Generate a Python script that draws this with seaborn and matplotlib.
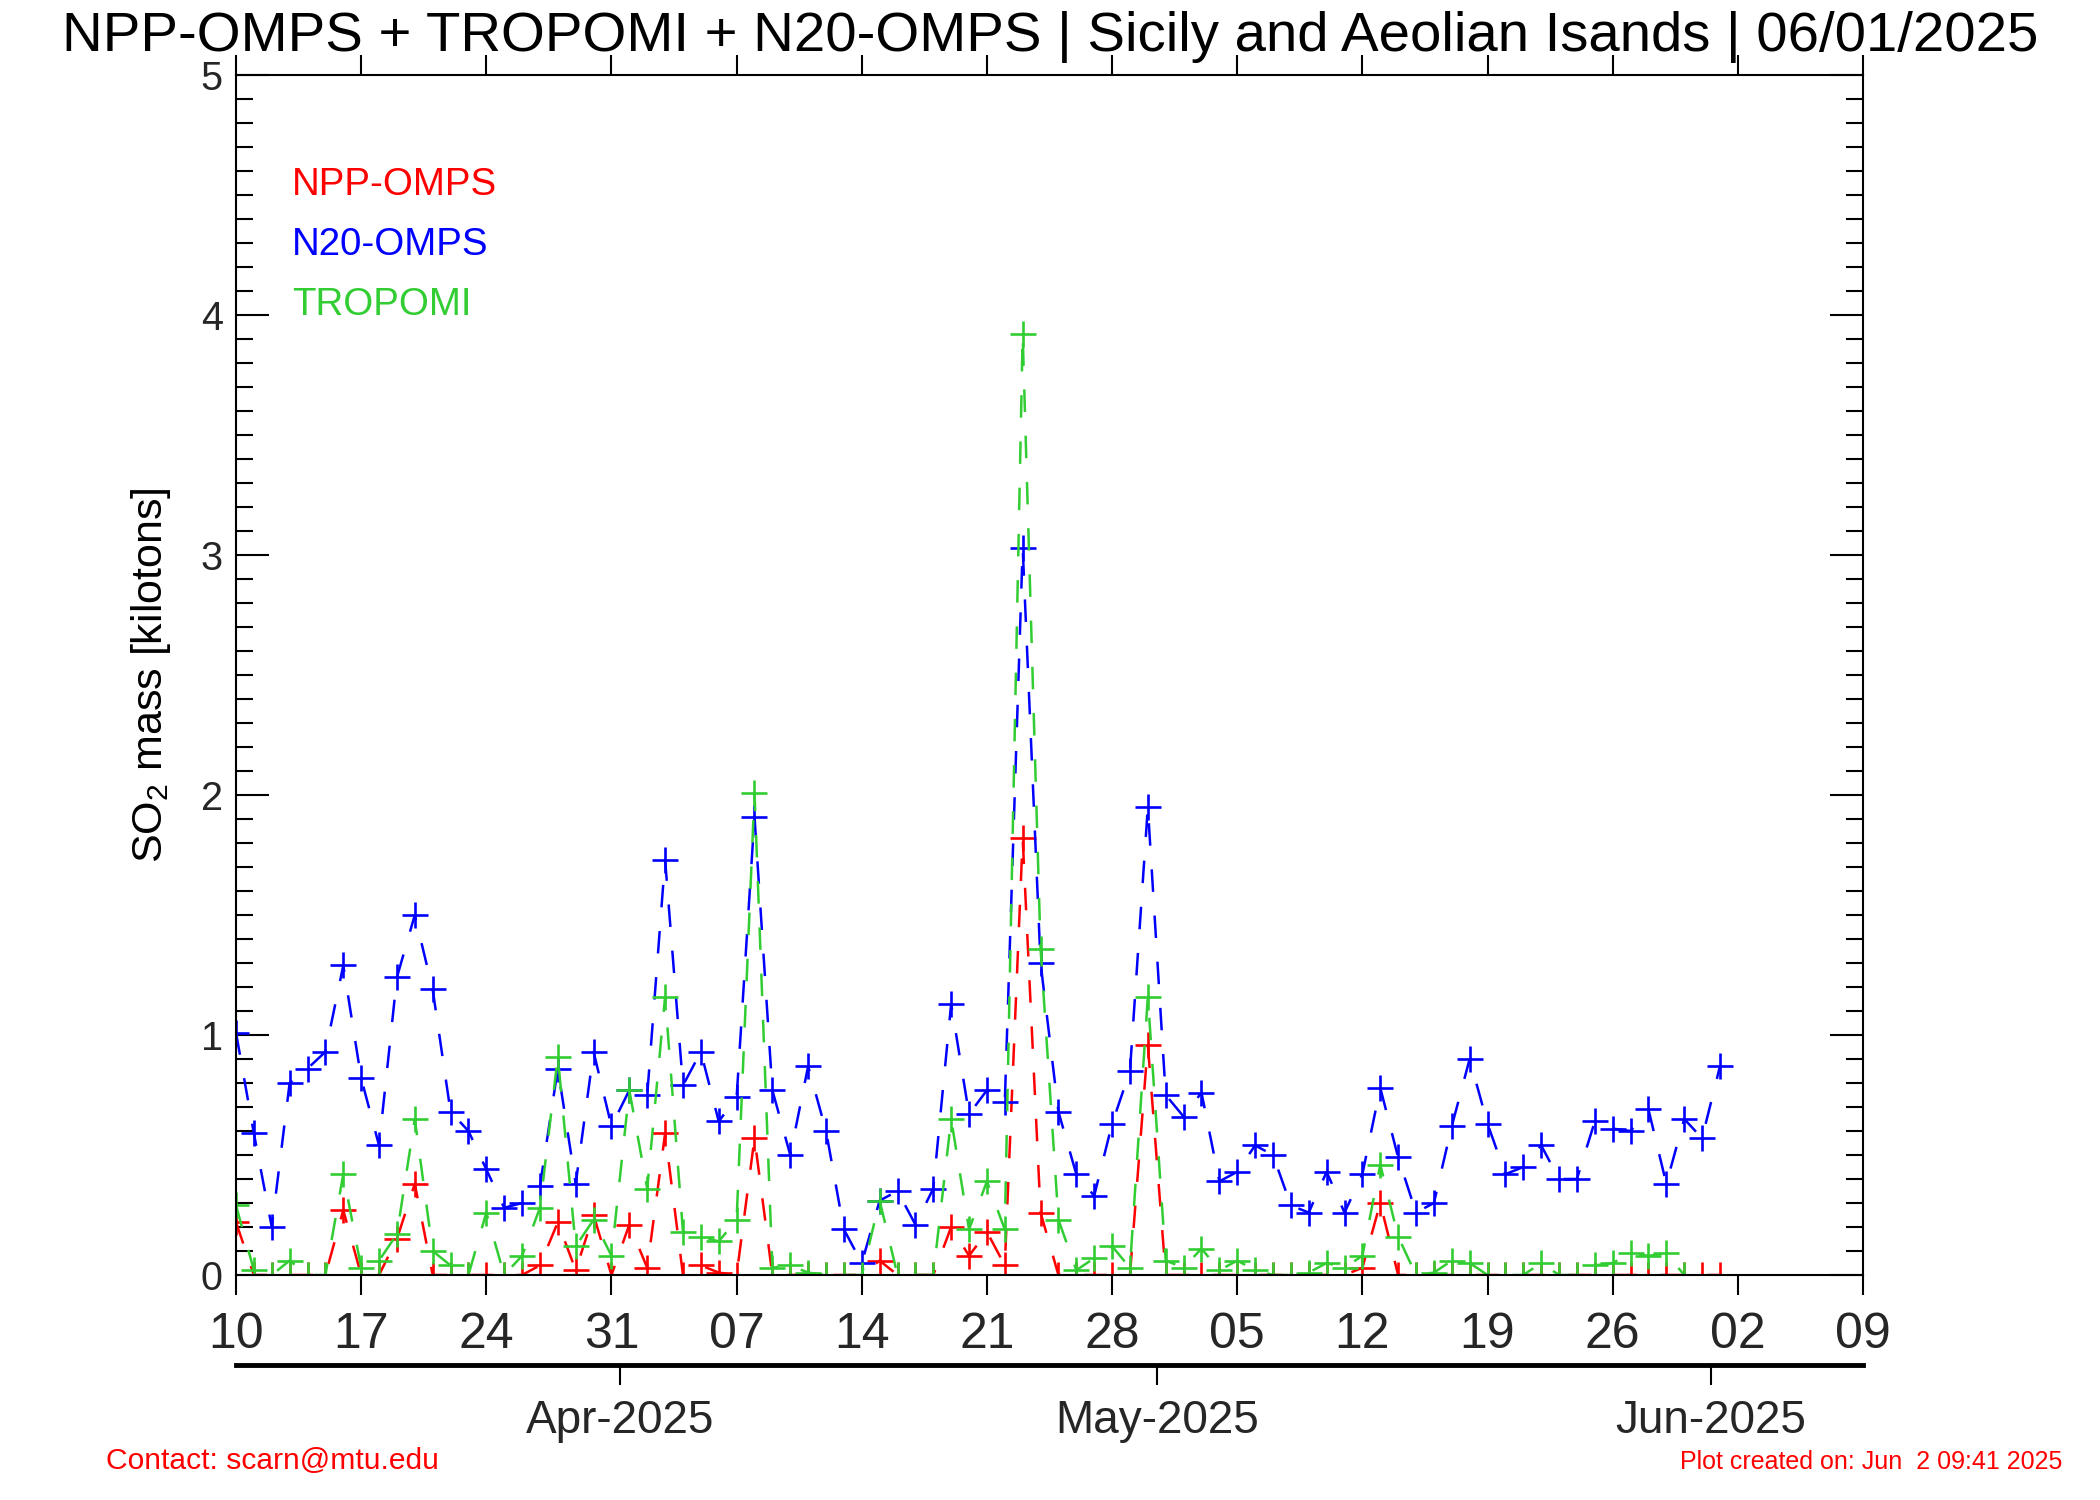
import datetime as dt
import numpy as np
import pandas as pd
import matplotlib
matplotlib.use("Agg")
import matplotlib.pyplot as plt
import seaborn as sns
from matplotlib.ticker import MultipleLocator, FixedLocator

# ---------------- data ----------------
start_date = dt.date(2025, 3, 10)
end_date = dt.date(2025, 6, 9)

npp_omps = [0.22, 0, 0, 0, 0, 0, 0.27, 0, 0, 0.15,
            0.38, 0, 0, 0, 0, 0, 0, 0.04, 0.22, 0.02,
            0.25, 0, 0.21, 0.03, 0.59, 0, 0.04, 0.01, 0, 0.57,
            0, 0, 0, 0, 0, 0, 0.06, 0, 0, 0,
            0.20, 0.08, 0.18, 0.04, 1.82, 0.26, 0, 0, 0, 0,
            0, 0.96, 0, 0, 0, 0, 0, 0, 0, 0,
            0, 0, 0, 0.03, 0.30, 0, 0, 0, 0, 0,
            0, 0, 0, 0, 0, 0, 0, 0, 0, 0,
            0, 0, 0, 0]

n20_omps = [1.01, 0.59, 0.20, 0.80, 0.86, 0.93, 1.29, 0.82, 0.54, 1.24,
            1.50, 1.19, 0.68, 0.60, 0.44, 0.28, 0.30, 0.37, 0.86, 0.38,
            0.93, 0.62, 0.77, 0.75, 1.73, 0.79, 0.93, 0.64, 0.74, 1.91,
            0.77, 0.50, 0.87, 0.60, 0.19, 0.05, 0.31, 0.35, 0.21, 0.36,
            1.13, 0.67, 0.77, 0.72, 3.03, 1.30, 0.68, 0.42, 0.33, 0.63,
            0.85, 1.95, 0.75, 0.66, 0.76, 0.39, 0.43, 0.54, 0.50, 0.29,
            0.26, 0.43, 0.26, 0.42, 0.78, 0.49, 0.26, 0.30, 0.62, 0.90,
            0.63, 0.42, 0.45, 0.54, 0.40, 0.40, 0.64, 0.61, 0.60, 0.69,
            0.38, 0.65, 0.57, 0.87]

tropomi = [0.29, 0.02, 0.00, 0.06, 0.00, 0.00, 0.42, 0.03, 0.06, 0.17,
           0.65, 0.10, 0.04, 0.00, 0.26, 0.00, 0.08, 0.28, 0.91, 0.12,
           0.23, 0.08, 0.77, 0.36, 1.16, 0.18, 0.16, 0.14, 0.23, 2.01,
           0.03, 0.04, 0.01, 0.00, 0.00, 0.00, 0.31, 0.00, 0.00, 0.00,
           0.65, 0.19, 0.39, 0.19, 3.92, 1.36, 0.23, 0.02, 0.07, 0.12,
           0.03, 1.16, 0.06, 0.03, 0.11, 0.02, 0.06, 0.02, 0.00, 0.00,
           0.01, 0.05, 0.03, 0.08, 0.46, 0.16, 0.00, 0.01, 0.06, 0.05,
           0.00, 0.00, 0.00, 0.05, 0.00, 0.00, 0.04, 0.05, 0.09, 0.08,
           0.09, 0.00]

series_names = ["NPP-OMPS", "N20-OMPS", "TROPOMI"]
series_values = [npp_omps, n20_omps, tropomi]
series_colors = ["#ff0000", "#0000ff", "#32cd32"]

title_text = "NPP-OMPS + TROPOMI + N20-OMPS | Sicily and Aeolian Isands | 06/01/2025"
ylabel_text = "SO$_2$ mass [kilotons]"
contact_text = "Contact: scarn@mtu.edu"
created_text = "Plot created on: Jun  2 09:41 2025"
month_labels = ["Apr-2025", "May-2025", "Jun-2025"]
month_starts = [dt.date(2025, 4, 1), dt.date(2025, 5, 1), dt.date(2025, 6, 1)]

# ---------------- style ----------------
sns.set_theme(style="white")
plt.rcParams["font.family"] = ["Liberation Sans", "DejaVu Sans"]
plt.rcParams["mathtext.fontset"] = "custom"
plt.rcParams["mathtext.rm"] = "Liberation Sans"
plt.rcParams["mathtext.it"] = "Liberation Sans"
plt.rcParams["mathtext.bf"] = "Liberation Sans"

W, H = 2100, 1500
fig = plt.figure(figsize=(W / 100, H / 100), dpi=100)
ax = fig.add_axes([236 / W, 1 - 1275 / H, (1863 - 236) / W, 1200 / H])

# ---------------- data frame & plotting ----------------
frames = []
for name, vals in zip(series_names, series_values):
    frames.append(pd.DataFrame({"day": np.arange(len(vals)), "mass": vals, "sensor": name}))
data = pd.concat(frames, ignore_index=True)

for name, color in zip(series_names, series_colors):
    sub = data[data["sensor"] == name]
    sns.lineplot(data=sub, x="day", y="mass", ax=ax, color=color,
                 linewidth=1.8, linestyle=(0, (9, 9.5)),
                 marker="+", markersize=19, markeredgewidth=1.9,
                 markeredgecolor=color, legend=False, sort=False)

# ---------------- axes ----------------
ndays = (end_date - start_date).days
ax.set_xlim(0, ndays)
ax.set_ylim(0, 5)
for s in ax.spines.values():
    s.set_color("black")
    s.set_linewidth(1.5)
    s.set_visible(True)

ax.yaxis.set_major_locator(MultipleLocator(1))
ax.yaxis.set_minor_locator(MultipleLocator(0.1))
ax.tick_params(axis="y", which="major", direction="in", left=True, right=True,
               length=23.8, width=1.5, color="black", labelsize=28.5, pad=9.5)
ax.tick_params(axis="y", which="minor", direction="in", left=True, right=True,
               length=12, width=1.5, color="black")
ax.set_yticks(range(0, 6))
ax.set_yticklabels([str(v) for v in range(0, 6)])

week_pos = list(range(0, ndays + 1, 7))
week_lab = [(start_date + dt.timedelta(days=d)).strftime("%d") for d in week_pos]
ax.xaxis.set_major_locator(FixedLocator(week_pos))
ax.set_xticklabels(week_lab)
ax.tick_params(axis="x", which="major", direction="out", bottom=True, top=True,
               length=14.4, width=1.5, color="black", labelsize=36, pad=12)
ax.set_xlabel("")
ax.set_ylabel("")
ax.grid(False)

# month axis below
sec = ax.secondary_xaxis(-0.075)
mpos = [(m - start_date).days - 0.5 for m in month_starts]
sec.set_xticks(mpos)
sec.set_xticklabels(month_labels)
sec.tick_params(axis="x", direction="out", length=14.4, width=1.5, color="black",
                labelsize=33, pad=10)
for s in sec.spines.values():
    s.set_linewidth(3.5)
    s.set_color("black")

# ---------------- texts ----------------
fig.text(0.5, 1 - 51 / H, title_text, ha="center", va="baseline",
         fontsize=40.6, color="black")
fig.text(151 / W, 1 - 675 / H, ylabel_text, rotation=90, ha="center", va="center",
         fontsize=31, color="black")

leg_base = [195, 255, 315]
for name, color, yb in zip(series_names, series_colors, leg_base):
    fig.text(292 / W, 1 - yb / H, name, color=color, fontsize=27.7,
             ha="left", va="baseline")

fig.text(106 / W, 1 - 1469 / H, contact_text, color="#ff0000", fontsize=21.6,
         ha="left", va="baseline")
fig.text(2062 / W, 1 - 1469 / H, created_text, color="#ff0000", fontsize=18,
         ha="right", va="baseline")

fig.savefig("out.png", dpi=100)
